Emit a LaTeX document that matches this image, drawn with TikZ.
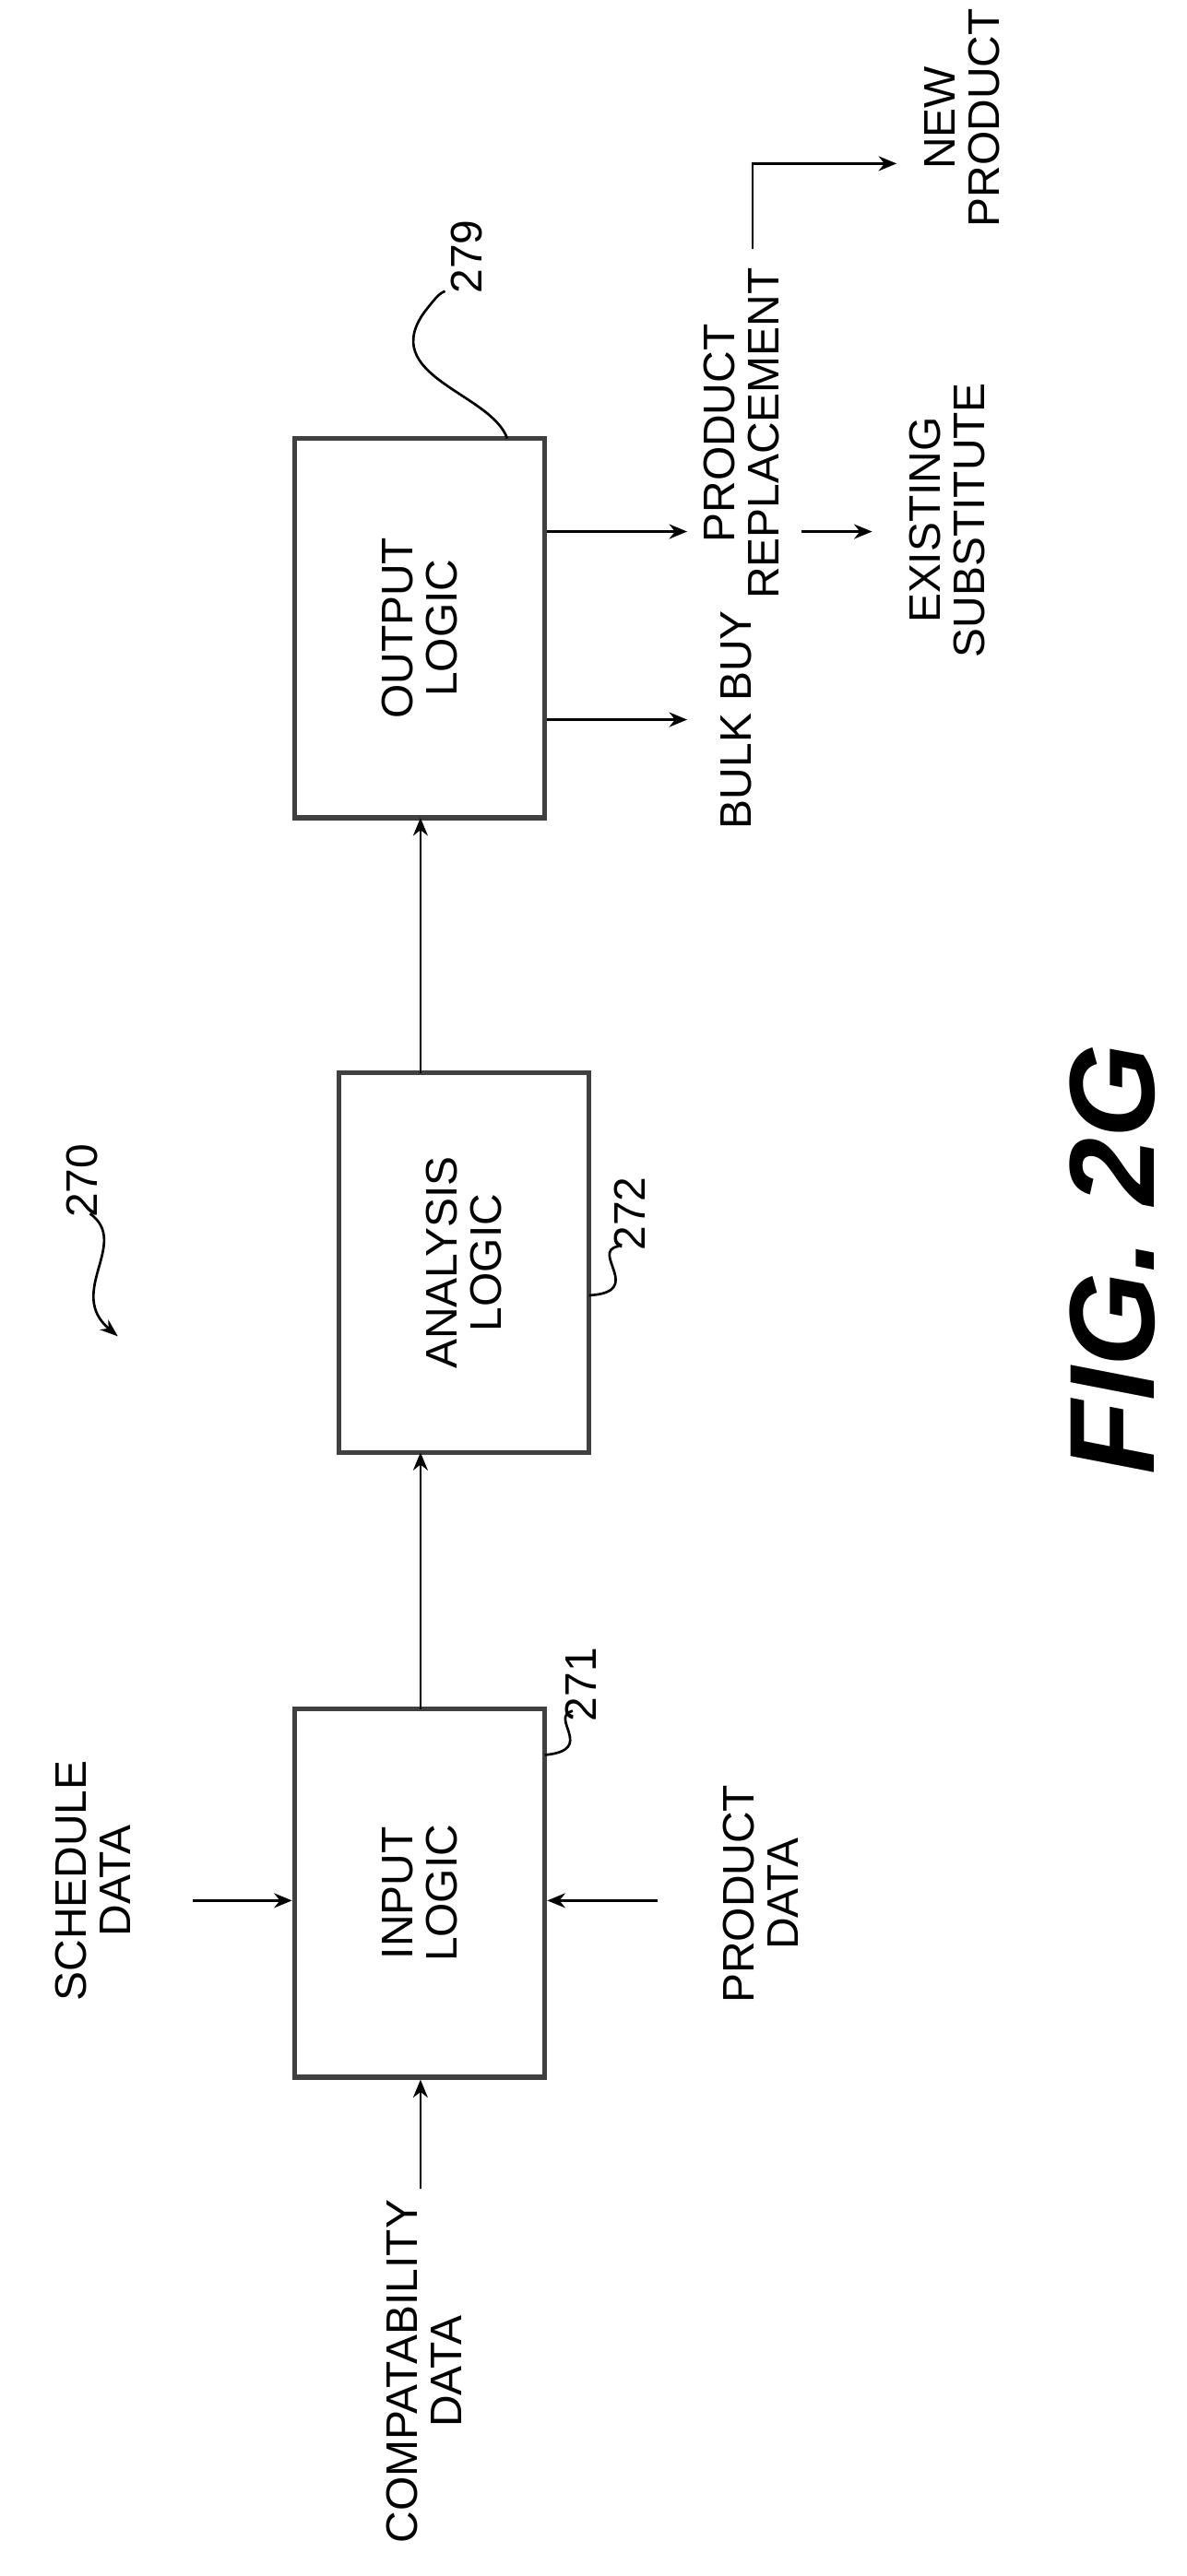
\documentclass[tikz,border=0pt]{standalone}
\usepackage{fontspec}
\setmainfont{Liberation Sans}
\usetikzlibrary{arrows.meta}
\begin{document}
\begin{tikzpicture}[x=1pt,y=-1pt,
 box/.style={draw=black!75,line width=3pt,minimum width=153pt,anchor=center},
 txt/.style={rotate=90,align=center,font=\fontsize{27}{27}\selectfont},
 lbl/.style={rotate=90,font=\fontsize{27}{27}\selectfont},
 arr/.style={line width=1.5pt,-{Stealth[length=11pt,width=9pt]}},
 sq/.style={line width=1.5pt}]
\useasboundingbox (0,0) rectangle (725,1575);
\node[box,minimum height=225pt] (in) at (256.5,1157.5) {};
\node[txt] (intx) at (in) {INPUT\\LOGIC};
\node[box,minimum height=232pt] (an) at (283.5,772) {};
\node[txt] (antx) at (an) {ANALYSIS\\LOGIC};
\node[box,minimum height=232pt] (out) at (256.5,384) {};
\node[txt] (outtx) at (out) {OUTPUT\\LOGIC};
\draw[arr] (257,1045) -- (257,888);
\draw[arr] (257,656) -- (257,500);
\node[txt] (sch) at (57,1150) {SCHEDULE\\DATA};
\coordinate (schs) at (118,1162);
\draw[arr] (schs) -- (in.west |- schs);
\node[txt] (prd) at (465,1158) {PRODUCT\\DATA};
\coordinate (prds) at (402,1162);
\draw[arr] (prds) -- (in.east |- prds);
\node[txt] (cmp) at (259,1450) {COMPATABILITY\\DATA};
\coordinate (cmps) at (257,1338);
\draw[arr] (cmps) -- (in.south -| cmps);
\node[txt] (bb) at (450,440) {BULK BUY};
\draw[arr] (out.east |- 0,440) -- (420,440);
\node[txt] (pr) at (453,265) {PRODUCT\\REPLACEMENT};
\draw[arr] (out.east |- 0,325) -- (420,325);
\node[txt] (ex) at (579,318) {EXISTING\\SUBSTITUTE};
\draw[arr] (490,325) -- (533,325);
\node[txt] (np) at (588,72) {NEW\\PRODUCT};
\coordinate (c1) at (460,152);
\draw[arr] (c1) -- (460,100) -- (548,100);
\node[lbl] (l279) at (285,157) {279};
\draw[sq] (310,268) .. controls (300,240) and (230,230) .. (260,190) .. controls (268,180) .. (272,178);
\node[lbl] (l272) at (385,742) {272};
\draw[sq] (360,792) .. controls (395,790) and (360,765) .. (378,762);
\node[lbl] (l271) at (355,1030) {271};
\draw[sq] (333,1073) .. controls (365,1070) and (335,1050) .. (350,1046);
\node[lbl] (l270) at (50,722) {270};
\draw[sq,-{Stealth[length=11pt,width=8pt]}] (55,742) .. controls (80,760) and (40,790) .. (72,817);
\node[rotate=90,font=\fontsize{74}{74}\selectfont\bfseries\itshape] (fig) at (680,770) {FIG. 2G};
\end{tikzpicture}
\end{document}
